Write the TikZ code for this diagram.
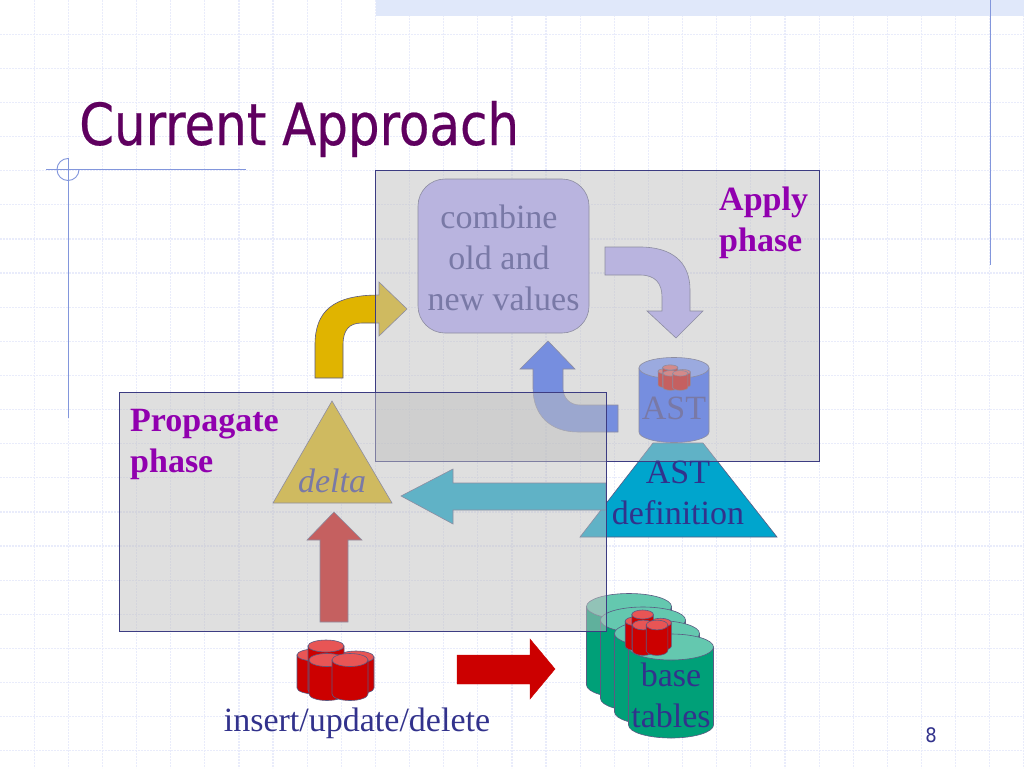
\documentclass[tikz,border=0pt]{standalone}
\usepackage{fontspec}
\setmainfont{Liberation Serif}
\newfontfamily\titlefont[FakeStretch=0.956, FakeBold=0.4]{DejaVu Sans Condensed}
\newfontfamily\pagefont{DejaVu Sans Condensed}
\usepackage{xcolor}
\usetikzlibrary{positioning}
\definecolor{titlepurple}{RGB}{95, 0, 95}
\definecolor{phasepurple}{RGB}{145, 0, 175}
\definecolor{textnavy}{RGB}{50, 50, 140}
\definecolor{gridlav}{RGB}{233, 236, 251}
\definecolor{bandlav}{RGB}{224, 232, 250}
\definecolor{ruleblue}{RGB}{130, 150, 220}
\definecolor{boxgray}{RGB}{192, 192, 192}
\definecolor{boxedge}{RGB}{60, 60, 130}
\definecolor{shapeedge}{RGB}{90, 90, 130}
\definecolor{accentyellow}{RGB}{224, 180, 0}
\definecolor{accentlav}{RGB}{178, 168, 255}
\definecolor{accentblue}{RGB}{44, 92, 255}
\definecolor{accentteal}{RGB}{0, 165, 205}
\definecolor{accentred}{RGB}{204, 0, 0}
\definecolor{redtop}{RGB}{232, 85, 85}
\definecolor{tablegreen}{RGB}{0, 160, 120}
\definecolor{tabletop}{RGB}{100, 200, 175}
\tikzset{
  shapeline/.style={draw=shapeedge, line width=0.6pt},
  phasebox/.style={draw=boxedge, line width=0.9pt, fill=boxgray, fill opacity=0.5},
  bodytext/.style={font=\fontsize{34}{41}\selectfont, text=textnavy, inner sep=0pt, align=center},
  phasetext/.style={font=\fontsize{34}{41}\selectfont\bfseries, text=phasepurple, inner sep=0pt, align=left, anchor=base west}
}
% centre x, top y, bottom y, x radius, y radius, body colour, lid colour
\newcommand{\drumshape}[7]{%
  \draw[shapeline, fill=#6] ({#1-#4},#2) -- ({#1-#4},#3)
    arc[start angle=180, end angle=0, x radius=#4, y radius=#5] -- ({#1+#4},#2) -- cycle;
  \draw[shapeline, fill=#7] (#1,#2) ellipse[x radius=#4, y radius=#5];
}
% group of small red drums, drawn around (335,670)
\newcommand{\redstack}{%
  \begin{scope}[shift={(-335,-670)}]
    \drumshape{315}{655}{688}{18}{6}{accentred}{redtop}
    \drumshape{356}{657}{688}{18}{6}{accentred}{redtop}
    \drumshape{326}{646}{690}{18}{6}{accentred}{redtop}
    \drumshape{327}{660}{694}{18}{6.5}{accentred}{redtop}
    \drumshape{350}{660}{694}{18}{6.5}{accentred}{redtop}
  \end{scope}
}
\begin{document}
\begin{tikzpicture}[x=1pt, y=-1pt]
  \useasboundingbox (0,0) rectangle (1024,768);
  \fill[white] (0,0) rectangle (1024,768);
  % slide grid
  \foreach \i in {1,...,30} {
    \draw[gridlav, line width=1.2pt, dash pattern=on 2pt off 1pt] ({\i*34.13},0) -- ({\i*34.13},768);
  }
  \foreach \i in {1,...,22} {
    \draw[gridlav, line width=1.2pt, dash pattern=on 2pt off 1pt] (0,{\i*34.13}) -- (1024,{\i*34.13});
  }
  % slide decoration
  \fill[bandlav] (376,0) rectangle (1024,16.5);
  \draw[ruleblue, line width=1pt] (990,0) -- (990,265);
  \draw[ruleblue, line width=0.9pt] (46,169.5) -- (246,169.5);
  \draw[ruleblue, line width=0.9pt] (68,158) -- (68,418);
  \draw[ruleblue, line width=0.9pt] (79,169.5) arc[start angle=0, end angle=270, radius=11];
  % title
  \node[anchor=base west, inner sep=0pt, text=titlepurple, font=\titlefont\fontsize{58}{60}\selectfont] (title) at (79,145) {Current Approach};

  % apply side
  \draw[shapeline, fill=accentlav, rounded corners=27pt] (418,179) rectangle (589,333);
  \node[bodytext] (combine) at (499,258) {combine\\old and\\\hspace*{9pt}new values};
  \draw[shapeline, fill=accentyellow] (315,378) -- (315,345) .. controls (315,312) and (332,295) .. (379,295)
    -- (379,282) -- (407,309) -- (379,336) -- (379,323) -- (362,323) .. controls (349,323) and (343,330) .. (343,345) -- (343,378) -- cycle;
  \draw[shapeline, fill=accentlav] (605,247) -- (640,247) .. controls (672,247) and (690,262) .. (690,290)
    -- (690,311) -- (703,311) -- (676,338) -- (647,311) -- (662,311) -- (662,297) .. controls (662,283) and (655,275) .. (640,275) -- (605,275) -- cycle;
  \draw[shapeline, fill=accentblue] (618,405) -- (618,432) -- (578,432) .. controls (550,432) and (533,415) .. (533,388)
    -- (533,369) -- (520,369) -- (548,341) -- (575,369) -- (563,369) -- (563,388) .. controls (563,398) and (570,405) .. (580,405) -- cycle;
  % AST drum on its definition
  \draw[shapeline, fill=accentteal] (653,443) -- (703,443) -- (777,537) -- (580,537) -- cycle;
  \drumshape{674}{368}{432}{35}{10.5}{accentblue}{accentblue!65!white}
  \begin{scope}[shift={(674,377.5)}, scale=0.42]
    \redstack
  \end{scope}
  \node[bodytext] (astdrum) at (674,408) {AST};

  % propagate side
  \draw[shapeline, fill=accentyellow] (332,401) -- (392,503) -- (273,503) -- cycle;
  \node[bodytext, font=\fontsize{34}{41}\selectfont\itshape] (delta) at (332,481) {delta};
  \draw[shapeline, fill=accentred] (320,622) -- (320,540) -- (307,540) -- (334,512) -- (362,540) -- (348,540) -- (348,622) -- cycle;
  \draw[shapeline, fill=accentteal] (606,483) -- (453,483) -- (453,469) -- (401,496) -- (453,524) -- (453,510) -- (606,510) -- cycle;

  % base tables
  \drumshape{629}{606.5}{685}{42.5}{13}{tablegreen}{tabletop}
  \drumshape{643}{620}{698.5}{42.5}{13}{tablegreen}{tabletop}
  \drumshape{657}{633.5}{712}{42.5}{13}{tablegreen}{tabletop}
  \drumshape{671}{647}{725}{42.5}{13}{tablegreen}{tabletop}
  \begin{scope}[shift={(648,632.5)}, xscale=0.6, yscale=0.75]
    \redstack
  \end{scope}

  % phase boxes lie over the shapes
  \path[phasebox] (375,170) rectangle (819,461);
  \path[phasebox] (119,392) rectangle (606,631);
  \node[phasetext] (applylabel) at (719,251) {Apply\\phase};
  \node[phasetext] (propagatelabel) at (130,472) {Propagate\\phase};

  % texts on top
  \node[bodytext] (astdef) at (678,493) {AST\\definition};
  \node[bodytext] (basetables) at (671,695) {base\\tables};
  % input
  \begin{scope}[shift={(335,670)}]
    \redstack
  \end{scope}
  \node[bodytext] (insertlabel) at (357,723) {insert/update/delete};
  \draw[accentred, fill=accentred] (457,655) -- (530,655) -- (530,639) -- (555,669) -- (530,699) -- (530,684) -- (457,684) -- cycle;
  % page number
  \node[text=textnavy, inner sep=0pt, font=\pagefont\fontsize{20}{20}\selectfont] (pagenum) at (931,735) {8};
\end{tikzpicture}
\end{document}
